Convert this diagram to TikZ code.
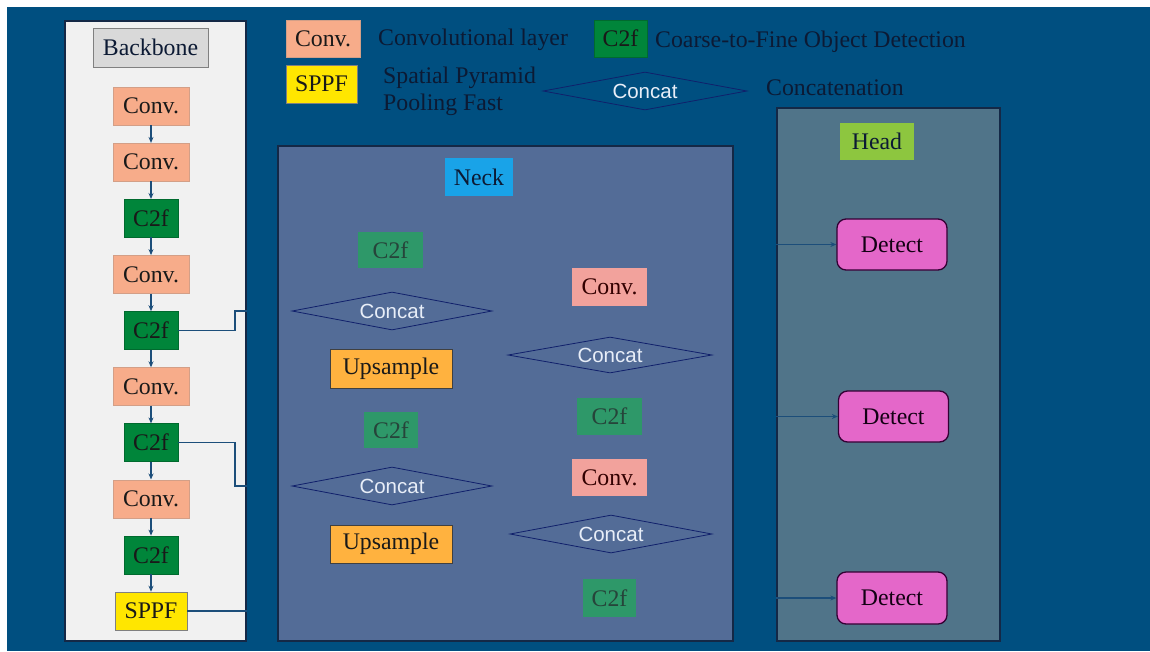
\documentclass[tikz,border=0pt]{standalone}
\usepackage{fontspec}
\setmainfont{Liberation Serif}
\newfontfamily\concatfont{Liberation Sans}
\usepackage{xcolor}
\usepackage{tikz}
\usetikzlibrary{shapes, positioning, arrows.meta}
\definecolor{bgblue}{RGB}{0,79,128}
\definecolor{navytext}{RGB}{12,26,52}
\definecolor{panelline}{RGB}{20,40,70}
\definecolor{bbfill}{RGB}{241,241,241}
\definecolor{neckfill}{RGB}{83,108,151}
\definecolor{headfill}{RGB}{80,116,137}
\definecolor{convfill}{RGB}{247,172,138}
\definecolor{convpink}{RGB}{242,162,156}
\definecolor{cffill}{RGB}{0,133,58}
\definecolor{cfmuted}{RGB}{46,152,105}
\definecolor{cftext}{RGB}{38,68,58}
\definecolor{sppffill}{RGB}{255,230,0}
\definecolor{upfill}{RGB}{255,178,63}
\definecolor{detfill}{RGB}{228,103,201}
\definecolor{necklabel}{RGB}{25,163,232}
\definecolor{headlabel}{RGB}{141,198,63}
\definecolor{linkblue}{RGB}{28,78,122}
\definecolor{concattext}{RGB}{232,238,248}
\newlength{\Gap}
\setlength\Gap{17.7pt}

\begin{document}
\begin{tikzpicture}[
    x = 1pt, y = -1pt, > = {Stealth[length = 6pt, width = 5pt]},
    font = \fontsize{23.8}{27}\selectfont,
    panel/.style = {
      rectangle, draw = panelline, line width = 1.5pt, inner sep = 0pt
    },
    title/.style = {
      rectangle, inner sep = 0pt, text = navytext,
      minimum width = 70pt, minimum height = 38pt
    },
    block/.style = {
      rectangle, inner sep = 0pt, minimum height = 38pt, text = black!90
    },
    conv/.style = {
      block, fill = convfill, draw = convfill!70!gray, minimum width = 76pt
    },
    cfblock/.style = {
      block, fill = cffill, draw = cffill!80!black, minimum width = 54pt
    },
    sppf/.style = {
      block, fill = sppffill, draw = gray, minimum width = 72pt
    },
    neckconv/.style = {
      block, fill = convpink, minimum width = 75pt, text = black!80!red
    },
    neckcf/.style = {
      block, fill = cfmuted, minimum height = 36pt, text = cftext
    },
    upsample/.style = {
      block, fill = upfill, draw = black!75, thick, minimum width = 122pt
    },
    concat/.style = {
      diamond, aspect = 5.3, draw = panelline!80!blue, thick, inner sep = 0pt,
      minimum width = 200pt, minimum height = 38pt, text = concattext,
      font = \concatfont\fontsize{20.5}{24}\selectfont
    },
    detect/.style = {
      rectangle, rounded corners = 9pt, fill = detfill, draw = black!60!violet,
      line width = 1.3pt, inner sep = 0pt, minimum width = 110pt,
      minimum height = 51pt, text = black!85!violet
    },
    legendtext/.style = {
      anchor = west, inner sep = 0pt, text = navytext, align = left
    },
    link/.style = {
      draw = linkblue, line width = 1.5pt
    },
    flow/.style = {
      link, ->
    },
  ]
\useasboundingbox (0,0) rectangle (1150,651);
\fill[white] (0,0) rectangle (1150,651);
\fill[bgblue] (7,7) rectangle (1150,651);

% legend
\node  [conv, minimum width = 74pt, minimum height = 37pt]  (lg_conv)  at (323,38.5)  {Conv.};
\node  [legendtext]  (lg_conv_txt)  at (378,40)  {Convolutional layer};
\node  [cfblock, minimum width = 53pt, minimum height = 37pt]  (lg_cf)  at (620.5,38.5)  {C2f};
\node  [legendtext]  (lg_cf_txt)  at (655,42)  {Coarse-to-Fine Object Detection};
\node  [sppf, minimum width = 71pt]  (lg_sppf)  at (321.5,84)  {SPPF};
\node  [legendtext]  (lg_sppf_txt)  at (383,91)  {Spatial Pyramid\\Pooling Fast};
\node  [concat, minimum width = 204pt, fill = bgblue]  (lg_concat)  at (645,91)  {Concat};
\node  [legendtext]  (lg_concat_txt)  at (766,88)  {Concatenation};

% backbone
\node  [panel, fill = bbfill, minimum width = 181pt, minimum height = 620pt]  (backbone)  at (155.5,331)  {};
\node  [title, fill = gray!30, draw = gray, minimum width = 115pt, minimum height = 39pt]  (bb_title)  at (150.5,47.5)  {Backbone};
\node  [conv]  (b_1)  at (151,106)  {Conv.};
\node  [conv]  (b_2)  [below = \Gap of b_1]  {Conv.};
\node  [cfblock]  (b_3)  [below = \Gap of b_2]  {C2f};
\node  [conv]  (b_4)  [below = \Gap of b_3]  {Conv.};
\node  [cfblock]  (b_5)  [below = \Gap of b_4]  {C2f};
\node  [conv]  (b_6)  [below = \Gap of b_5]  {Conv.};
\node  [cfblock]  (b_7)  [below = \Gap of b_6]  {C2f};
\node  [conv]  (b_8)  [below = \Gap of b_7]  {Conv.};
\node  [cfblock]  (b_9)  [below = \Gap of b_8]  {C2f};
\node  [sppf]  (b_10)  [below = \Gap of b_9]  {SPPF};

\foreach \i [evaluate = \i as \j using int(\i+1)] in {1,...,9}
  \draw  [flow]  (b_\i.south)  --  (b_\j.north);

\coordinate  (out_1)  at (backbone.east |- 0,311);
\coordinate  (out_2)  at (backbone.east |- 0,486);
\draw  [link]  (b_5.east)  --  ++(57,0)  |-  (out_1);
\draw  [link]  (b_7.east)  --  ++(57,0)  |-  (out_2);
\draw  [link]  (b_10.east)  --  (backbone.east |- b_10.east);

% neck
\node  [panel, fill = neckfill, minimum width = 455pt, minimum height = 495pt]  (neck)  at (505.5,393.5)  {};
\node  [title, fill = necklabel, minimum width = 68pt]  (neck_title)  at (479,177)  {Neck};
\node  [neckcf, minimum width = 65pt]  (n_1)  at (390.5,250)  {C2f};
\node  [concat, fill = neckfill]  (n_2)  at (392,311)  {Concat};
\node  [upsample, minimum height = 39pt]  (n_3)  at (391,368.5)  {Upsample};
\node  [neckcf, minimum width = 54pt]  (n_4)  at (391,430)  {C2f};
\node  [concat, fill = neckfill]  (n_5)  at (392,486)  {Concat};
\node  [upsample]  (n_6)  at (391,544)  {Upsample};
\node  [neckconv]  (n_7)  at (609.5,287)  {Conv.};
\node  [concat, fill = neckfill, minimum width = 204pt, minimum height = 36pt]  (n_8)  at (610,355)  {Concat};
\node  [neckcf, minimum width = 65pt, minimum height = 37pt]  (n_9)  at (609.5,416.5)  {C2f};
\node  [neckconv, minimum height = 37pt]  (n_10)  at (609.5,477.5)  {Conv.};
\node  [concat, fill = neckfill, minimum width = 202pt]  (n_11)  at (611,534)  {Concat};
\node  [neckcf, minimum width = 53pt, minimum height = 38pt]  (n_12)  at (609.5,598)  {C2f};

% head
\node  [panel, fill = headfill, minimum width = 223pt, minimum height = 533pt]  (head)  at (888.5,374.5)  {};
\node  [title, fill = headlabel, minimum width = 74pt, minimum height = 37pt]  (head_title)  at (877,141.5)  {Head};
\node  [detect]  (d_1)  at (892,244.5)  {Detect};
\node  [detect]  (d_2)  at (893.5,416.5)  {Detect};
\node  [detect, minimum height = 52pt]  (d_3)  at (892,598)  {Detect};

\foreach \i in {1,2,3}
  \draw  [flow]  (head.west |- d_\i.west)  --  (d_\i.west);

\end{tikzpicture}
\end{document}
